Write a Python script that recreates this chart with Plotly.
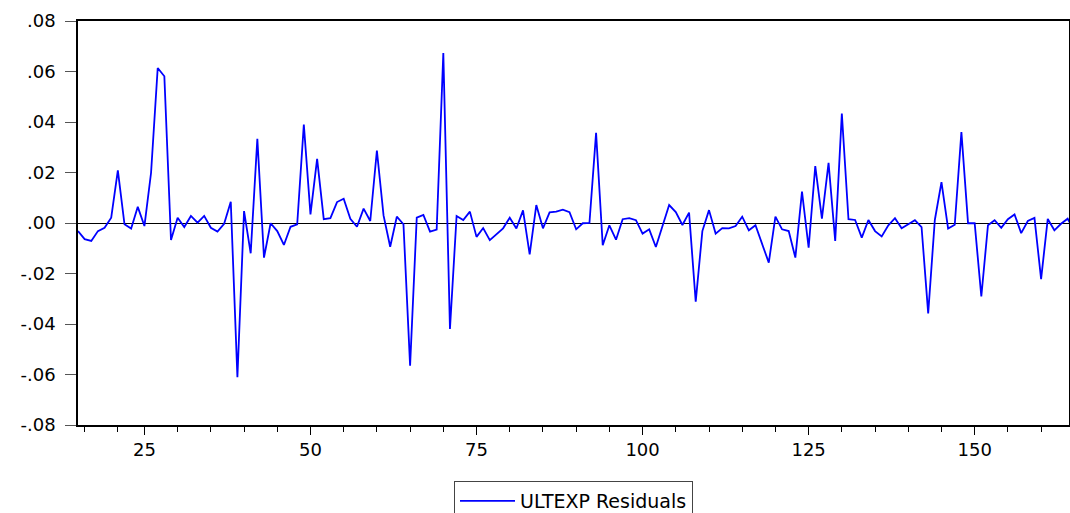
import plotly.graph_objects as go

obs = list(range(15, 166))
resid = [
    -0.0032, -0.0064, -0.0071, -0.0032, -0.0019, 0.0021, 0.0208, -0.0005, -0.0022, 0.0064,
    -0.0012, 0.0199, 0.0614, 0.0581, -0.0067, 0.0021, -0.0016, 0.0028, 0.0001, 0.0028,
    -0.0019, -0.0034, -0.0003, 0.0084, -0.0611, 0.0047, -0.0120, 0.0333, -0.0137, -0.0001,
    -0.0032, -0.0087, -0.0015, -0.0005, 0.0390, 0.0034, 0.0254, 0.0015, 0.0019, 0.0083,
    0.0096, 0.0017, -0.0015, 0.0057, 0.0008, 0.0287, 0.0030, -0.0094, 0.0025, -0.0005,
    -0.0565, 0.0021, 0.0032, -0.0034, -0.0026, 0.0673, -0.0420, 0.0028, 0.0012, 0.0045,
    -0.0055, -0.0020, -0.0068, -0.0045, -0.0021, 0.0021, -0.0022, 0.0050, -0.0124, 0.0071,
    -0.0021, 0.0042, 0.0045, 0.0053, 0.0043, -0.0025, -0.0001, 0.0000, 0.0357, -0.0088,
    -0.0009, -0.0066, 0.0015, 0.0019, 0.0011, -0.0042, -0.0025, -0.0095, -0.0009, 0.0071,
    0.0043, -0.0008, 0.0041, -0.0312, -0.0032, 0.0051, -0.0042, -0.0020, -0.0021, -0.0012,
    0.0025, -0.0029, -0.0009, -0.0084, -0.0157, 0.0025, -0.0025, -0.0032, -0.0137, 0.0124,
    -0.0098, 0.0225, 0.0017, 0.0238, -0.0071, 0.0433, 0.0015, 0.0012, -0.0058, 0.0012,
    -0.0032, -0.0053, -0.0009, 0.0019, -0.0021, -0.0005, 0.0011, -0.0016, -0.0358, 0.0012,
    0.0162, -0.0022, -0.0007, 0.0360, -0.0001, -0.0001, -0.0291, -0.0009, 0.0011, -0.0019,
    0.0015, 0.0034, -0.0040, 0.0008, 0.0020, -0.0222, 0.0016, -0.0029, -0.0003, 0.0017,
    -0.0030,
]

y_tickvals = [0.08, 0.06, 0.04, 0.02, 0.0, -0.02, -0.04, -0.06, -0.08]
y_ticktext = [".08", ".06", ".04", ".02", ".00", "-.02", "-.04", "-.06", "-.08"]
x_tickvals = [25, 50, 75, 100, 125, 150]
x_ticktext = ["25", "50", "75", "100", "125", "150"]
x_minor_ticks = [16, 21, 30, 35, 40, 45, 55, 60, 65, 70, 80, 85, 90, 95,
                 105, 110, 115, 120, 130, 135, 140, 145, 155, 160]

fig = go.Figure()
fig.add_trace(go.Scatter(
    x=obs, y=resid, mode="lines", name="ULTEXP Residuals",
    line=dict(color="#0000FF", width=1.8),
))

fig.update_layout(
    width=1070, height=513,
    margin=dict(l=78, r=1, t=21, b=88, autoexpand=False),
    paper_bgcolor="white", plot_bgcolor="white",
    font=dict(family="DejaVu Sans, Arial, sans-serif", size=18, color="black"),
    showlegend=True,
    legend=dict(
        orientation="h", x=0.5, xanchor="center", y=-0.1386, yanchor="top",
        bordercolor="#444444", borderwidth=1, font=dict(size=19),
        itemwidth=55,
    ),
)
fig.update_xaxes(
    range=[15, 164.2], tickvals=x_tickvals, ticktext=x_ticktext,
    showgrid=False, zeroline=False,
    showline=True, linecolor="black", linewidth=1.5, mirror=True,
    ticks="outside", ticklen=8, tickcolor="black", tickwidth=1,
    minor=dict(tickmode="array", tickvals=x_minor_ticks, ticks="outside",
               ticklen=5, tickcolor="black", showgrid=False),
)
fig.update_yaxes(
    range=[-0.08, 0.08], tickvals=y_tickvals, ticktext=y_ticktext,
    showgrid=False, zeroline=True, zerolinecolor="black", zerolinewidth=1,
    showline=True, linecolor="black", linewidth=1.5, mirror=True,
    ticks="outside", ticklen=11, tickcolor="#555555", tickwidth=1,
    ticklabelstandoff=6,
)

fig.write_html(
    "out.html",
    config={"displayModeBar": False},
    post_script="document.body.style.margin='0';document.body.style.overflow='hidden';",
)
